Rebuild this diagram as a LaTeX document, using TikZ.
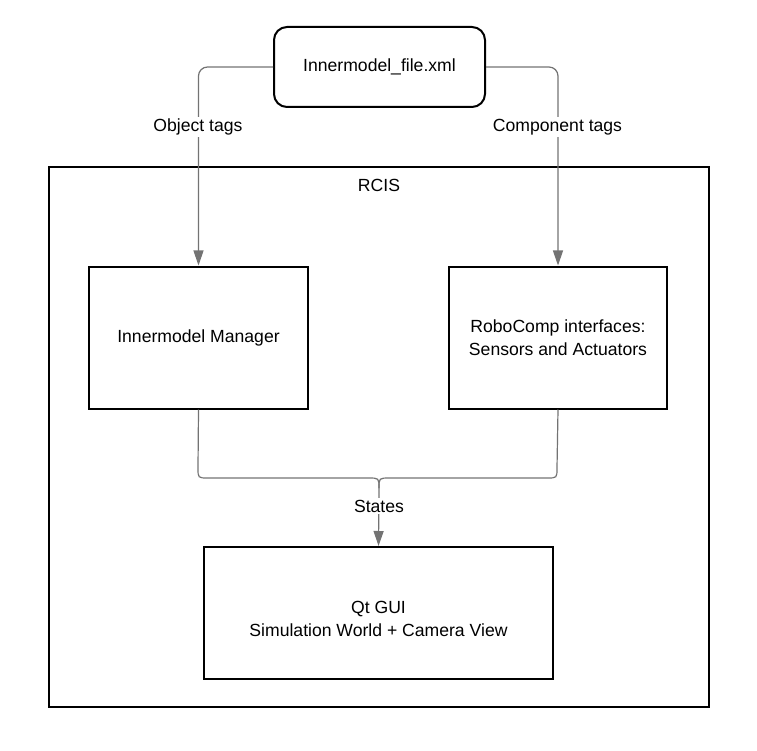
\documentclass[tikz,border=0pt]{standalone}
\usepackage{fontspec}
\setmainfont{Liberation Sans}
\usetikzlibrary{arrows.meta}
\begin{document}
\begin{tikzpicture}[x=1pt,y=-1pt,
  box/.style={draw=black,line width=2pt,fill=none,align=center,inner sep=0pt},
  conn/.style={draw=black!55,line width=1.2pt},
  arr/.style={-{Triangle[length=15pt,width=10pt]}},
  lbl/.style={fill=white,inner sep=2pt},
  font=\fontsize{17.6}{22.5}\selectfont]
\useasboundingbox (0,0) rectangle (757,751);
\node[box,minimum width=660,minimum height=540] (rcis) at (379,437) {};
\node (rcislbl) at (379,185) {RCIS};
\node[box,rounded corners=13pt,minimum width=211,minimum height=80] (xml) at (379.5,67) {Innermodel\_file.xml};
\node[box,minimum width=219,minimum height=142] (mgr) at (198.5,337.5) {Innermodel Manager};
\node[box,minimum width=218,minimum height=142] (rc) at (558,337.5) {RoboComp interfaces:\\Sensors and Actuators};
\node[box,minimum width=349,minimum height=132] (gui) at (378.5,613) {};
\node (guitxt) at (378.5,619) [align=center] {Qt GUI\\Simulation World + Camera View};
\coordinate (merge) at (379,488);
\draw[conn,arr,rounded corners=9pt] (xml.west) -| (mgr.north);
\draw[conn,arr,rounded corners=9pt] (xml.east) -| (rc.north);
\node[lbl] (objlbl) at (198,127) {Object tags};
\node[lbl] (complbl) at (557.5,127) {Component tags};
\draw[conn] (mgr.south) -- (198,468) .. controls (198,478) .. (208,478) -- (368,478) .. controls (379,478) .. (merge);
\draw[conn] (rc.south) -- (557,468) .. controls (557,478) .. (547,478) -- (390,478) .. controls (379,478) .. (merge);
\draw[conn,arr] (merge) -- (gui.north);
\node[lbl] (states) at (379,506) {States};
\end{tikzpicture}
\end{document}
